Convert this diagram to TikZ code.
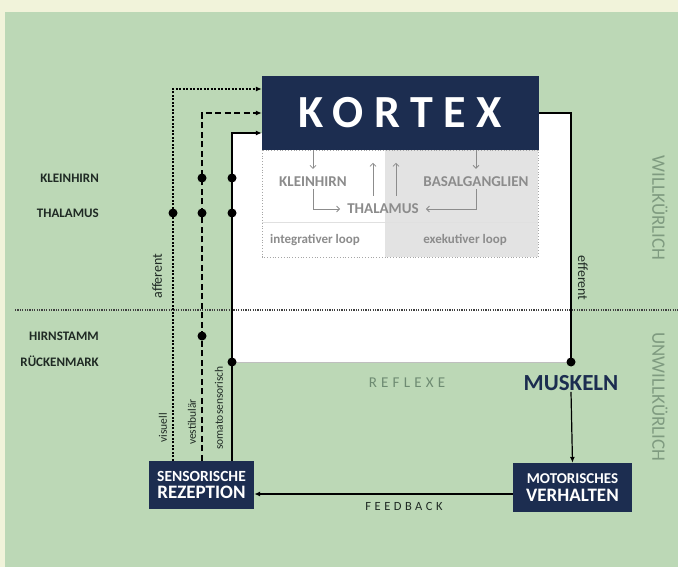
\documentclass[tikz,border=0pt]{standalone}
\usepackage{fontspec}
\setmainfont{Carlito}
\usetikzlibrary{positioning,arrows.meta,calc}
\definecolor{Navy}{HTML}{1C2D50}
\definecolor{Leaf}{HTML}{BCD8B6}
\definecolor{Cream}{HTML}{F1F3DA}
\definecolor{Stone}{HTML}{8C8C8C}
\definecolor{Fog}{HTML}{E3E3E3}
\definecolor{Ink}{HTML}{1F2A24}
\definecolor{Moss}{HTML}{7F9B80}
\definecolor{Sage}{HTML}{6E8B72}
\tikzset{
  darkbox/.style={fill=Navy, text=white, font=\bfseries, align=center, inner sep=0pt},
  inlabel/.style={text=Stone, font=\bfseries\fontsize{15}{17}\selectfont, inner sep=2pt},
  sidelabel/.style={text=Ink, font=\bfseries\fontsize{13}{15}\selectfont, anchor=east, inner sep=0pt},
  pathlabel/.style={text=Ink, font=\fontsize{11.5}{13}\selectfont, rotate=90, inner sep=0pt},
  zonelabel/.style={text=Moss, font=\fontsize{19}{21}\selectfont, rotate=-90, inner sep=0pt},
  junction/.style={circle, fill=black, inner sep=0pt, minimum size=9pt},
  blackarrow/.style={-{Latex[length=6pt,width=5pt]}},
  grayarrow/.style={draw=Stone, line width=0.8pt, -{Straight Barb[length=3pt,width=6pt]}},
  visline/.style={line width=2.2pt, dash pattern=on 2pt off 1.5pt, blackarrow},
  vesline/.style={line width=2pt, dash pattern=on 6pt off 3.5pt, blackarrow},
  somline/.style={line width=1.8pt, blackarrow}
}

\begin{document}
\begin{tikzpicture}[x=1pt,y=-1pt]
\useasboundingbox (0,0) rectangle (678,567);
\fill[Cream] (0,0) rectangle (678,567);
\fill[Leaf] (5,12) rectangle (678,567);
% white field behind the cortex
\fill[white] (232,133) rectangle (571,362);
\fill[white] (539,113) rectangle (571,133);
\draw[black!25, line width=1pt] (232,362) -- (571,362);
% loops panel
\fill[Fog] (385,150) rectangle (538,257);
\draw[black!35, line width=0.8pt, dotted] (262,150) rectangle (538,257);
\draw[black!12, line width=1pt] (262,223) -- (538,223);
% border willkuerlich / unwillkuerlich
\draw[black!75, line width=1.2pt, dash pattern=on 1.2pt off 1.2pt] (15,310) -- (678,310);

\node[darkbox, minimum width=277pt, minimum height=74pt] (kortex) at (400.5,113) {\fontsize{46}{50}\selectfont\addfontfeatures{LetterSpace=23}KORTEX};

\node[inlabel] (kh) at (313,182) {KLEINHIRN};
\node[inlabel] (bg) at (476,182) {BASALGANGLIEN};
\node[inlabel, inner xsep=7pt] (th) at (383,209) {THALAMUS};
\node[inlabel, font=\bfseries\fontsize{13}{15}\selectfont] (intl) at (315,240) {integrativer loop};
\node[inlabel, font=\bfseries\fontsize{13}{15}\selectfont] (exl) at (465,240) {exekutiver loop};

\draw[grayarrow, shorten >=6pt] (kh |- kortex.south) -- (kh.north);
\draw[grayarrow, shorten >=6pt] (bg |- kortex.south) -- (bg.north);
\draw[grayarrow] ($(th.north)+(-10,-6)$) -- ++(0,-33);
\draw[grayarrow] ($(th.north)+(13,-6)$) -- ++(0,-33);
\draw[grayarrow] (kh.south) |- (th.west);
\draw[grayarrow] (bg.south) |- (th.east);

\node[darkbox, minimum width=105pt, minimum height=48pt] (sens) at (201.5,485) {\fontsize{15.5}{18}\selectfont SENSORISCHE\\[4pt]\fontsize{19}{21}\selectfont REZEPTION};
\node[darkbox, minimum width=119pt, minimum height=49pt] (motor) at (572.5,487.5) {\fontsize{15}{18}\selectfont MOTORISCHES\\[4pt]\fontsize{19}{21}\selectfont VERHALTEN};
\node[text=Navy, font=\bfseries\fontsize{23}{25}\selectfont, inner sep=1pt] (musk) at (571,383) {MUSKELN};

% afferent pathways
\coordinate (vis) at (173,89);
\coordinate (ves) at (202,113);
\coordinate (som) at (232,133);
\draw[visline] (sens.north -| vis) -- (vis) -- (vis -| kortex.west);
\draw[vesline] (sens.north -| ves) -- (ves) -- (ves -| kortex.west);
\draw[somline] (sens.north -| som) -- (som) -- (som -| kortex.west);

\node[sidelabel] (lkh) at (99,178) {KLEINHIRN};
\node[sidelabel] (lth) at (99,213) {THALAMUS};
\node[sidelabel] (lhs) at (99,336) {HIRNSTAMM};
\node[sidelabel] (lrm) at (99,361) {RÜCKENMARK};

\foreach \a/\b in {ves/lkh, som/lkh, vis/lth, ves/lth, som/lth, ves/lhs}
  \node[junction] at (\a |- \b) {};

% efferent pathway
\coordinate (effend) at (571,362);
\draw[line width=1.8pt] (kortex.east) -| (effend);
\node[junction] at (effend) {};
\node[junction] at (som |- effend) {};
\draw[line width=1.2pt, blackarrow] (musk.south) -- (motor.north);

\coordinate (fb) at (0,494);
\draw[line width=1.4pt, blackarrow] (motor.west |- fb) -- (sens.east |- fb);
\node[text=Ink, font=\fontsize{12.5}{14}\selectfont\addfontfeatures{LetterSpace=28}, inner sep=0pt] (feedback) at (404,506) {FEEDBACK};
\node[text=Sage, font=\fontsize{15}{17}\selectfont\addfontfeatures{LetterSpace=28}, inner sep=0pt] (reflexe) at (407,383) {REFLEXE};

\node[pathlabel] at (163,428) {visuell};
\node[pathlabel] at (192,422) {vestibulär};
\node[pathlabel] at (219,408) {somatosensorisch};
\node[pathlabel, font=\fontsize{14}{16}\selectfont] at (157,276) {afferent};
\node[pathlabel, font=\fontsize{14}{16}\selectfont, rotate=180] at (583,278) {efferent};

\node[zonelabel] at (660,208) {WILLKÜRLICH};
\node[zonelabel] at (660,397) {UNWILLKÜRLICH};
\end{tikzpicture}
\end{document}
